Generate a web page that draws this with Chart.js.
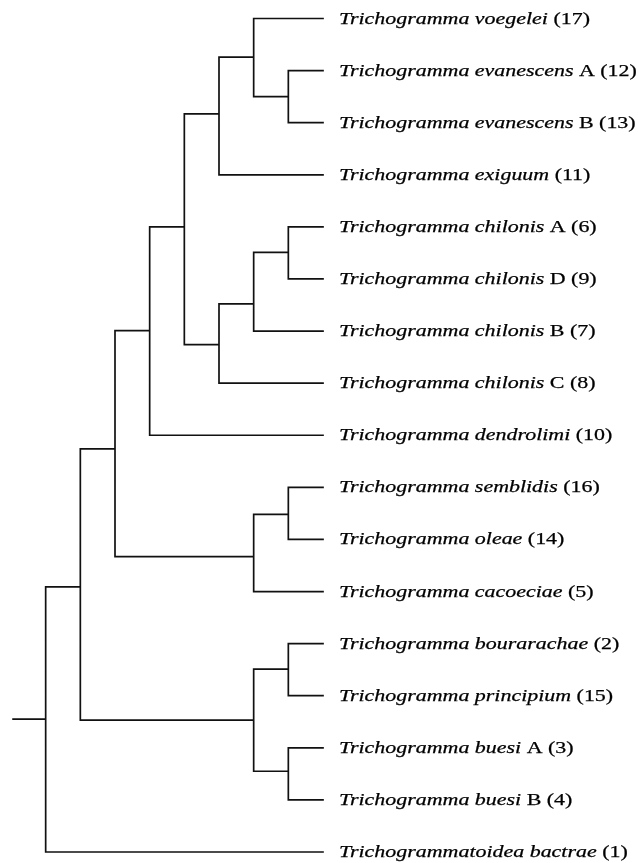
<!DOCTYPE html>
<html>
<head>
<meta charset="utf-8">
<script src="https://cdn.jsdelivr.net/npm/chart.js@4.4.1/dist/chart.umd.min.js"></script>
<style>
  html, body { margin: 0; padding: 0; background: #fff; }
  #wrap { width: 638px; height: 863px; }
</style>
</head>
<body>
<div id="wrap"><canvas id="tree" width="638" height="863"></canvas></div>
<script>
// Leaves, top to bottom (y = index)
const leafNames = [
    'Trichogramma voegelei', 'Trichogramma evanescens', 'Trichogramma evanescens',
    'Trichogramma exiguum', 'Trichogramma chilonis', 'Trichogramma chilonis',
    'Trichogramma chilonis', 'Trichogramma chilonis', 'Trichogramma dendrolimi',
    'Trichogramma semblidis', 'Trichogramma oleae', 'Trichogramma cacoeciae',
    'Trichogramma bourarachae', 'Trichogramma principium', 'Trichogramma buesi',
    'Trichogramma buesi', 'Trichogrammatoidea bactrae'
];
const leafSuffix = [
    '(17)', 'A (12)', 'B (13)', '(11)', 'A (6)', 'D (9)', 'B (7)', 'C (8)', '(10)',
    '(16)', '(14)', '(5)', '(2)', '(15)', 'A (3)', 'B (4)', '(1)'
];
const leafDepth = 9;

// Internal nodes: depth (x), position (y, in leaf units), children (leaf index or node id)
const nodeIds   = ['root', 'a', 'b', 'c', 'd', 'e', 'f', 'g', 'ch', 'h', 'i', 's', 'p', 'bu', 'bu1', 'bu2'];
const nodeDepth = [1, 2, 3, 4, 5, 6, 7, 8, 6, 7, 8, 7, 8, 7, 8, 8];
const nodeY     = [13.45, 10.91, 8.26, 5.99, 4.0, 1.83, 0.74, 1.5, 6.26, 5.48, 4.49, 10.33, 9.52, 13.47, 12.49, 14.45];
const nodeKids  = [
    ['a', 16], ['b', 'bu'], ['c', 's'], ['d', 8], ['e', 'ch'], ['f', 3], [0, 'g'], [1, 2],
    ['h', 7], ['i', 6], [4, 5], ['p', 11], [9, 10], ['bu1', 'bu2'], [12, 13], [14, 15]
];
const rootStubFrom = 0.06;

// posicion de un hijo (hoja o nodo)
function kidPos(k) {
    if (typeof k === 'number') return { x: leafDepth, y: k };
    const j = nodeIds.indexOf(k);
    return { x: nodeDepth[j], y: nodeY[j] };
}

// each node drawn as a bracket: child1 -> node -> child2, broken by gaps
const pts = [];
nodeIds.forEach((id, j) => {
    const [k1, k2] = nodeKids[j].map(kidPos);
    pts.push(k1, { x: nodeDepth[j], y: k1.y }, { x: nodeDepth[j], y: k2.y }, k2);
    pts.push({ x: NaN, y: null });
});
pts.push({ x: rootStubFrom, y: nodeY[0] }, { x: nodeDepth[0], y: nodeY[0] });

const FONT = '"Liberation Serif", "Times New Roman", serif';
const SX = 1.29;

const leafLabels = {
    id: 'leafLabels',
    afterDatasetsDraw(chart) {
        const ctx = chart.ctx;
        const xs = chart.scales.x, ys = chart.scales.y;
        const x0 = xs.getPixelForValue(leafDepth) + 16;
        ctx.save();
        ctx.fillStyle = '#000';
        ctx.strokeStyle = '#000';
        ctx.lineWidth = 0.25;
        ctx.textBaseline = 'alphabetic';
        leafNames.forEach((name, i) => {
            const y = ys.getPixelForValue(i) + 5;
            ctx.save();
            ctx.translate(x0, y);
            ctx.scale(SX, 1);
            ctx.font = 'italic 17px ' + FONT;
            ctx.fillText(name, 0, 0);
            ctx.strokeText(name, 0, 0);
            const w = ctx.measureText(name + ' ').width;
            ctx.font = '17px ' + FONT;
            ctx.fillText(leafSuffix[i], w, 0);
            ctx.strokeText(leafSuffix[i], w, 0);
            ctx.restore();
        });
        ctx.restore();
    }
};

new Chart(document.getElementById('tree'), {
    type: 'scatter',
    data: {
        datasets: [{
            data: pts,
            showLine: true,
            spanGaps: false,
            borderColor: '#111',
            borderWidth: 1.7,
            borderCapStyle: 'square',
            borderJoinStyle: 'miter',
            pointRadius: 0,
            clip: false
        }]
    },
    options: {
        responsive: false,
        animation: false,
        events: [],
        layout: { padding: { left: 11, right: 315, top: 18.5, bottom: 11 } },
        scales: {
            x: { type: 'linear', min: 0, max: leafDepth, display: false },
            y: { type: 'linear', min: 0, max: leafNames.length - 1, reverse: true, display: false }
        },
        plugins: { legend: { display: false }, tooltip: { enabled: false } }
    },
    plugins: [leafLabels]
});
</script>
</body>
</html>
